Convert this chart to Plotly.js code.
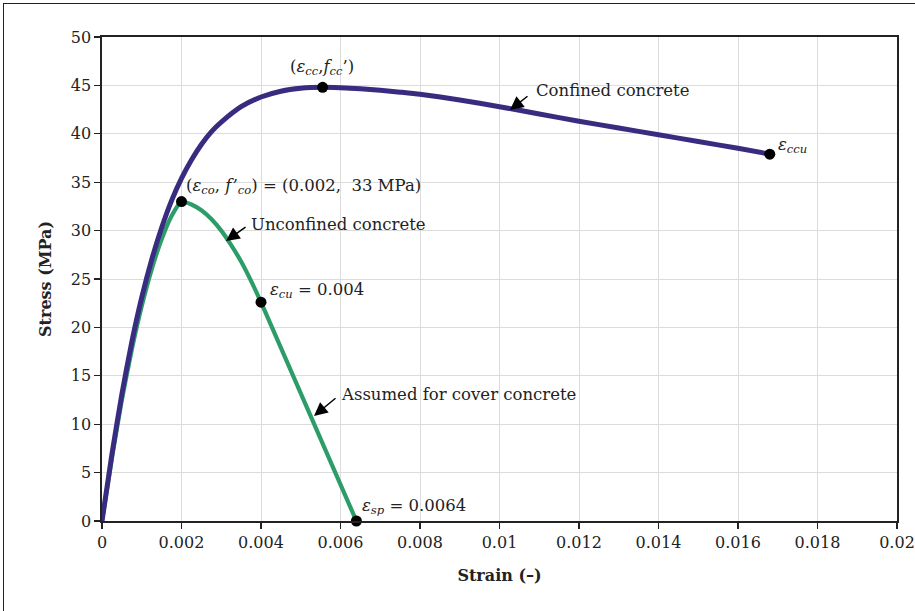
<!DOCTYPE html>
<html>
<head>
<meta charset="utf-8">
<script src="https://cdn.plot.ly/plotly-3.0.1.min.js"></script>
<style>
  html, body { margin: 0; padding: 0; background: #fff; }
  #wrap { position: relative; width: 915px; height: 611px; overflow: hidden; }
  #chart { width: 915px; height: 611px; }
  #frame { position: absolute; left: 3px; top: 3px; width: 2000px; height: 2000px;
           border-left: 1.6px solid #222; border-top: 1.6px solid #222; pointer-events: none; }
</style>
</head>
<body>
<div id="wrap">
  <div id="chart"></div>
  <div id="frame"></div>
</div>
<script>
// ---- Data ----
const confinedStrain = [0, 0.00025, 0.0005, 0.00075, 0.001, 0.00125, 0.0015, 0.00175, 0.002,
  0.00225, 0.0025, 0.00275, 0.003, 0.0035, 0.004, 0.0045, 0.005, 0.00555, 0.006, 0.0065, 0.007,
  0.0075, 0.008, 0.009, 0.010, 0.011, 0.012, 0.013, 0.014, 0.015, 0.016, 0.0168];
const confinedStress = [0, 6.9, 13.1, 18.5, 23.1, 27.0, 30.3, 33.1, 35.4,
  37.3, 38.9, 40.2, 41.2, 42.8, 43.8, 44.4, 44.7, 44.8, 44.75, 44.65, 44.5,
  44.3, 44.08, 43.5, 42.8, 42.05, 41.3, 40.6, 39.9, 39.2, 38.5, 37.9];

const unconfinedStrain = [0, 0.00025, 0.0005, 0.00075, 0.001, 0.00125, 0.0015, 0.00175, 0.002,
  0.00225, 0.0025, 0.00275, 0.003, 0.00325, 0.0035, 0.00375, 0.004, 0.0064];
const unconfinedStress = [0, 6.5, 12.5, 17.7, 22.2, 26.0, 29.1, 31.5, 33.0,
  32.7, 32.1, 31.2, 30.0, 28.5, 26.8, 24.8, 22.6, 0];

const keyStrain = [0.002, 0.004, 0.0064, 0.00555, 0.0168];
const keyStress = [33, 22.6, 0, 44.8, 37.9];

const xTickVals = [0, 0.002, 0.004, 0.006, 0.008, 0.01, 0.012, 0.014, 0.016, 0.018, 0.02];
const xTickText = ['0', '0.002', '0.004', '0.006', '0.008', '0.01', '0.012', '0.014', '0.016', '0.018', '0.02'];
const yTickVals = [0, 5, 10, 15, 20, 25, 30, 35, 40, 45, 50];

const blue = 'rgb(56,44,128)';
const green = 'rgb(44,156,104)';
const serif = '"DejaVu Serif", serif';

const traces = [
  { x: unconfinedStrain, y: unconfinedStress, type: 'scatter', mode: 'lines',
    line: { color: green, width: 4.2, shape: 'spline', smoothing: 0.6 }, hoverinfo: 'skip' },
  { x: confinedStrain, y: confinedStress, type: 'scatter', mode: 'lines',
    line: { color: blue, width: 5, shape: 'spline', smoothing: 0.6 }, hoverinfo: 'skip' },
  { x: keyStrain, y: keyStress, type: 'scatter', mode: 'markers', cliponaxis: false,
    marker: { color: '#000', size: 11 }, hoverinfo: 'skip' }
];

const annFont = { family: serif, size: 16.5, color: '#222' };
function txt(x, y, text, xanchor) {
  return { x: x, y: y, xref: 'x', yref: 'y', text: text, showarrow: false,
           xanchor: xanchor || 'left', yanchor: 'middle', font: annFont };
}
function arrow(x, y, ax, ay) {
  return { x: x, y: y, ax: ax, ay: ay, xref: 'x', yref: 'y', axref: 'x', ayref: 'y',
           text: '', showarrow: true, arrowhead: 2, arrowsize: 1.8, arrowwidth: 1.5,
           arrowcolor: '#000', standoff: 0 };
}

const annotations = [
  txt(0.005535, 46.9, '(<i>ε</i><sub><i>cc</i></sub>,<i>f</i><sub><i>cc</i></sub>’)', 'center'),
  txt(0.010868, 44.5, 'Confined concrete'),
  arrow(0.010264, 42.46, 0.010742, 44.0),
  txt(0.01695, 38.8, '<i>ε</i><sub><i>ccu</i></sub>'),
  txt(0.002063, 34.6, '(<i>ε</i><sub><i>co</i></sub>, <i>f’</i><sub><i>co</i></sub>) = (0.002,  33 MPa)'),
  txt(0.003698, 30.68, 'Unconfined concrete'),
  arrow(0.00312, 28.93, 0.003648, 30.48),
  txt(0.004176, 23.86, '<i>ε</i><sub><i>cu</i></sub> = 0.004'),
  txt(0.005962, 13.02, 'Assumed for cover concrete'),
  arrow(0.005333, 10.85, 0.005912, 12.81),
  txt(0.00649, 1.55, '<i>ε</i><sub><i>sp</i></sub> = 0.0064')
];

const layout = {
  width: 915, height: 611,
  margin: { l: 102, r: 18, t: 37, b: 90 },
  paper_bgcolor: '#fff', plot_bgcolor: '#fff',
  showlegend: false,
  font: { family: serif, size: 16, color: '#222' },
  xaxis: {
    range: [0, 0.02], tickvals: xTickVals, ticktext: xTickText,
    showgrid: true, gridcolor: '#dcdcdc', gridwidth: 1,
    showline: true, linecolor: '#222', linewidth: 1.6, mirror: true,
    ticks: 'outside', ticklen: 6, tickcolor: '#222', tickwidth: 1.3,
    zeroline: false,
    tickfont: { family: serif, size: 16, color: '#222' },
    title: { text: '<b>Strain (–)</b>', standoff: 19, font: { family: serif, size: 16, color: '#222' } }
  },
  yaxis: {
    range: [0, 50], tickvals: yTickVals,
    showgrid: true, gridcolor: '#dcdcdc', gridwidth: 1,
    showline: true, linecolor: '#222', linewidth: 1.6, mirror: true,
    ticks: 'outside', ticklen: 6, tickcolor: '#222', tickwidth: 1.3,
    zeroline: false,
    tickfont: { family: serif, size: 16, color: '#222' },
    title: { text: '<b>Stress (MPa)</b>', standoff: 15, font: { family: serif, size: 16, color: '#222' } }
  },
  annotations: annotations
};

Plotly.newPlot('chart', traces, layout, { displayModeBar: false, staticPlot: true });
</script>
</body>
</html>
